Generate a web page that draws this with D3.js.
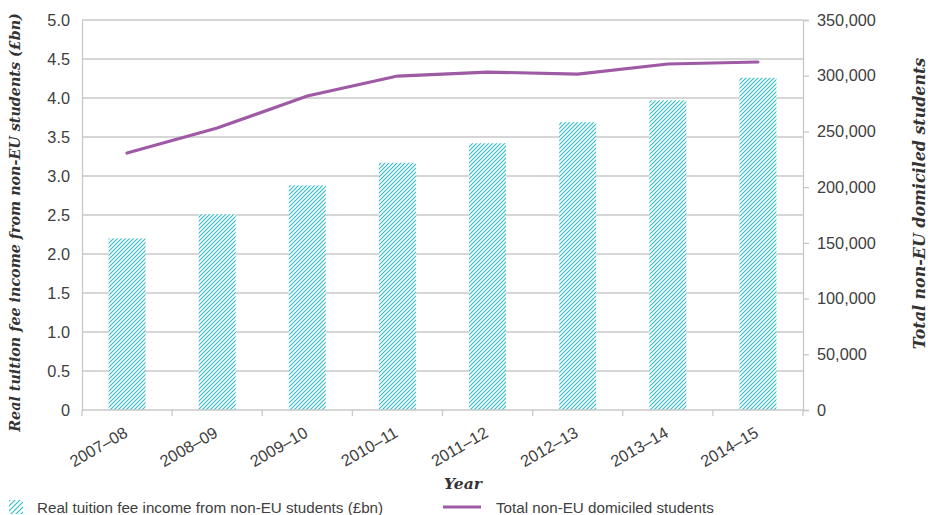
<!DOCTYPE html>
<html><head><meta charset="utf-8">
<script src="https://cdn.jsdelivr.net/npm/d3@7"></script>
<style>body{margin:0;background:#fff;} svg{display:block;}</style>
</head><body>
<script>
const categories = ["2007–08","2008–09","2009–10","2010–11","2011–12","2012–13","2013–14","2014–15"];
const feeIncome = [2.2, 2.51, 2.88, 3.17, 3.42, 3.69, 3.97, 4.26];
const students = [230600, 253000, 281800, 299700, 303300, 301500, 310500, 312300];
const leftTicks = [0,0.5,1,1.5,2,2.5,3,3.5,4,4.5,5];
const rightTicks = [0,50000,100000,150000,200000,250000,300000,350000];

const W=928,H=515;
const m={l:82,r:803,t:20,b:410};
const svg=d3.select("body").append("svg").attr("width",W).attr("height",H);
const defs=svg.append("defs");
const pat=defs.append("pattern").attr("id","hatch").attr("patternUnits","userSpaceOnUse")
  .attr("width",4).attr("height",4);
pat.append("rect").attr("width",4).attr("height",4).attr("fill","#fff");
pat.append("path").attr("d","M-1,1 l2,-2 M0,4 l4,-4 M3,5 l2,-2").attr("stroke","#2bbcc8").attr("stroke-width",1.1);
const pat2=defs.append("pattern").attr("id","hatchL").attr("patternUnits","userSpaceOnUse")
  .attr("width",5).attr("height",5);
pat2.append("rect").attr("width",5).attr("height",5).attr("fill","#fff");
pat2.append("path").attr("d","M-1,1 l2,-2 M0,5 l5,-5 M4,6 l2,-2").attr("stroke","#2bbcc8").attr("stroke-width",1.1);

const x=d3.scaleBand().domain(categories).range([m.l,m.r]).paddingInner(0.59).paddingOuter(0.295);
const yL=d3.scaleLinear().domain([0,5]).range([m.b,m.t]);
const yR=d3.scaleLinear().domain([0,350000]).range([m.b,m.t]);

// gridlines
svg.append("g").selectAll("line").data(leftTicks.filter(d=>d>0)).join("line")
  .attr("x1",m.l).attr("x2",m.r).attr("y1",d=>yL(d)).attr("y2",d=>yL(d))
  .attr("stroke","#c8c8c8").attr("stroke-width",1.3);

// bars
svg.append("g").selectAll("rect").data(feeIncome).join("rect")
  .attr("x",(d,i)=>x(categories[i])).attr("width",x.bandwidth())
  .attr("y",d=>yL(d)).attr("height",d=>yL(0)-yL(d)).attr("fill","url(#hatch)");

// line
const line=d3.line().x((d,i)=>x(categories[i])+x.bandwidth()/2).y(d=>yR(d));
svg.append("path").datum(students).attr("d",line).attr("fill","none")
  .attr("stroke","#9e5aa5").attr("stroke-width",3.2).attr("stroke-linecap","round");

const tickFont="Liberation Sans, Arial, sans-serif";
// left axis
const gL=svg.append("g").attr("transform",`translate(${m.l},0)`)
  .call(d3.axisLeft(yL).tickValues(leftTicks).tickSize(0).tickPadding(12)
    .tickFormat(d=>d===0?"0":d3.format(".1f")(d)));
gL.select(".domain").attr("stroke","#c8c8c8").attr("stroke-width",1.3);
gL.selectAll("text").attr("font-family",tickFont).attr("font-size",16.3).attr("fill","#404040");

// right axis
const gR=svg.append("g").attr("transform",`translate(${m.r},0)`)
  .call(d3.axisRight(yR).tickValues(rightTicks).tickSize(6).tickPadding(8)
    .tickFormat(d3.format(",")));
gR.select(".domain").attr("stroke","#c8c8c8").attr("stroke-width",1.3);
gR.selectAll("line").attr("stroke","#c8c8c8").attr("stroke-width",1.3);
gR.selectAll("text").attr("font-family",tickFont).attr("font-size",16.3).attr("fill","#404040");

// bottom axis
const xTick=d3.scalePoint().domain(d3.range(categories.length+1)).range([m.l,m.r]);
const gB=svg.append("g").attr("transform",`translate(0,${m.b})`);
gB.append("line").attr("x1",m.l).attr("x2",m.r).attr("stroke","#c8c8c8").attr("stroke-width",1.3);
gB.selectAll("line.t").data(d3.range(categories.length+1)).join("line").attr("class","t")
  .attr("x1",d=>xTick(d)).attr("x2",d=>xTick(d)).attr("y1",0).attr("y2",6)
  .attr("stroke","#c8c8c8").attr("stroke-width",1.3);
gB.selectAll("text").data(categories).join("text")
  .attr("transform",d=>`translate(${x(d)+x.bandwidth()/2-4},${16}) rotate(-30)`)
  .attr("text-anchor","end").attr("dy","0.7em")
  .attr("font-family",tickFont).attr("font-size",16.3).attr("fill","#404040").text(d=>d);

// axis titles
const titleFont="'DejaVu Serif', serif";
svg.append("text").attr("transform","translate(20,222.5) rotate(-90)").attr("text-anchor","middle")
  .attr("font-family",titleFont).attr("font-weight","bold").attr("font-style","italic")
  .attr("font-size",14.3).attr("fill","#333").text("Real tuition fee income from non-EU students (£bn)");
svg.append("text").attr("transform","translate(925,203.5) rotate(-90)").attr("text-anchor","middle")
  .attr("font-family",titleFont).attr("font-weight","bold").attr("font-style","italic")
  .attr("font-size",15.9).attr("fill","#333").text("Total non-EU domiciled students");
svg.append("text").attr("x",463).attr("y",489).attr("text-anchor","middle")
  .attr("font-family",titleFont).attr("font-weight","bold").attr("font-style","italic")
  .attr("font-size",15.5).attr("fill","#333").text("Year");

// legend
const lg=svg.append("g");
lg.append("rect").attr("x",9).attr("y",500).attr("width",14).attr("height",14).attr("fill","url(#hatchL)");
lg.append("text").attr("x",37).attr("y",513).attr("font-family",tickFont).attr("font-size",15.2)
  .attr("fill","#404040").text("Real tuition fee income from non-EU students (£bn)");
lg.append("line").attr("x1",443).attr("x2",481).attr("y1",507).attr("y2",507)
  .attr("stroke","#9e5aa5").attr("stroke-width",3.2);
lg.append("text").attr("x",496).attr("y",513).attr("font-family",tickFont).attr("font-size",15.2)
  .attr("fill","#404040").text("Total non-EU domiciled students");
</script>
</body></html>
